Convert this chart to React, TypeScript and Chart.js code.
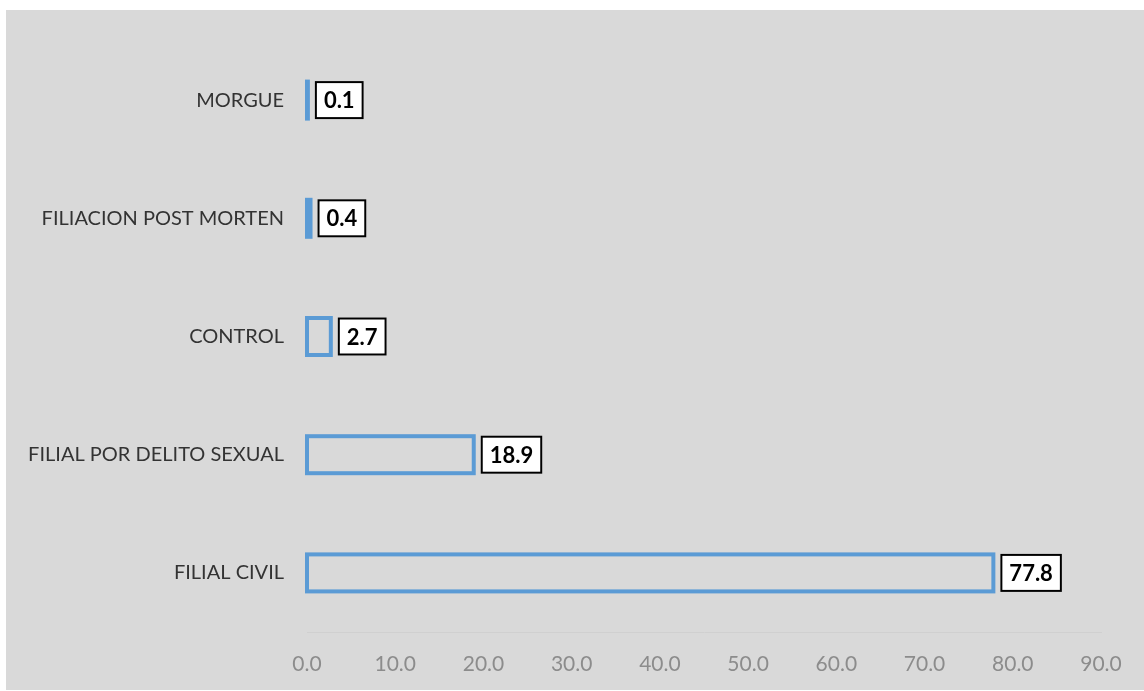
import React, { useEffect, useRef } from "react";
import { Chart, registerables } from "chart.js";

Chart.register(...registerables);

const categories = [
  "MORGUE",
  "FILIACION POST MORTEN",
  "CONTROL",
  "FILIAL POR DELITO SEXUAL",
  "FILIAL CIVIL",
];
const values = [0.1, 0.4, 2.7, 18.9, 77.8];
const xMin = 0;
const xMax = 90;
const xStep = 10;

const FONT = "Lato, 'Noto Sans', sans-serif";

// Outline each bar (stroke centred on the bar edge, like the reference)
const outlinePlugin = {
  id: "barOutline",
  afterDatasetsDraw(chart: any) {
    const ctx = chart.ctx;
    const meta = chart.getDatasetMeta(0);
    ctx.save();
    ctx.lineWidth = 4;
    ctx.strokeStyle = "#5b9bd5";
    meta.data.forEach((bar: any) => {
      const p = bar.getProps(["x", "y", "base", "height"], true);
      ctx.strokeRect(p.base, p.y - p.height / 2, p.x - p.base, p.height);
    });
    ctx.restore();
  },
};

const boxLabelPlugin = {
  id: "boxLabels",
  afterDatasetsDraw(chart: any) {
    const ctx = chart.ctx;
    const meta = chart.getDatasetMeta(0);
    const xScale = chart.scales.x;
    ctx.save();
    ctx.font = `bold 22px ${FONT}`;
    ctx.textAlign = "center";
    ctx.textBaseline = "middle";
    meta.data.forEach((bar: any, i: number) => {
      const v = values[i];
      const text = v.toFixed(1);
      const tw = ctx.measureText(text).width;
      const w = tw + 18;
      const h = 38;
      const x0 = xScale.getPixelForValue(v) + 7;
      const y0 = bar.y - h / 2;
      ctx.fillStyle = "#ffffff";
      ctx.fillRect(x0, y0, w, h);
      ctx.lineWidth = 2;
      ctx.strokeStyle = "#000000";
      ctx.strokeRect(x0 + 1, y0 + 1, w - 2, h - 2);
      ctx.fillStyle = "#000000";
      ctx.fillText(text, x0 + w / 2, bar.y + 1);
    });
    ctx.restore();
  },
};

export default function App() {
  const ref = useRef<HTMLCanvasElement | null>(null);
  useEffect(() => {
    if (!ref.current) return;
    const chart = new Chart(ref.current, {
      type: "bar",
      data: {
        labels: categories,
        datasets: [
          {
            data: values,
            backgroundColor: "rgba(0,0,0,0)",
            borderWidth: 0,
            barThickness: 37,
          } as any,
        ],
      },
      options: {
        indexAxis: "y",
        responsive: false,
        animation: false,
        devicePixelRatio: 1,
        layout: { padding: { top: 31, right: 43, left: 0, bottom: 0 } },
        plugins: {
          legend: { display: false },
          tooltip: { enabled: false },
        },
        scales: {
          x: {
            min: xMin,
            max: xMax,
            ticks: {
              stepSize: xStep,
              padding: 20,
              color: "#8c8c8c",
              font: { family: FONT, size: 21 },
              maxRotation: 0,
              autoSkip: false,
              callback: (v: any) => Number(v).toFixed(1),
            },
            grid: { display: false, drawTicks: false },
            border: { display: true, color: "#d0d0d0", width: 1 },
            afterFit: (s: any) => {
              s.height = 58;
            },
          },
          y: {
            ticks: {
              padding: 23,
              color: "#333333",
              font: { family: FONT, size: 20 },
            },
            grid: { display: false, drawTicks: false },
            border: { display: false },
            afterFit: (s: any) => {
              s.width = 301;
              s.paddingTop = 0;
              s.paddingBottom = 0;
            },
          },
        },
      },
      plugins: [outlinePlugin, boxLabelPlugin],
    } as any);
    return () => chart.destroy();
  }, []);
  return (
    <div
      style={{
        position: "absolute",
        left: 6,
        top: 10,
        width: 1138,
        height: 680,
        background: "#d9d9d9",
      }}
    >
      <canvas ref={ref} width={1138} height={680} style={{ display: "block" }} />
    </div>
  );
}
